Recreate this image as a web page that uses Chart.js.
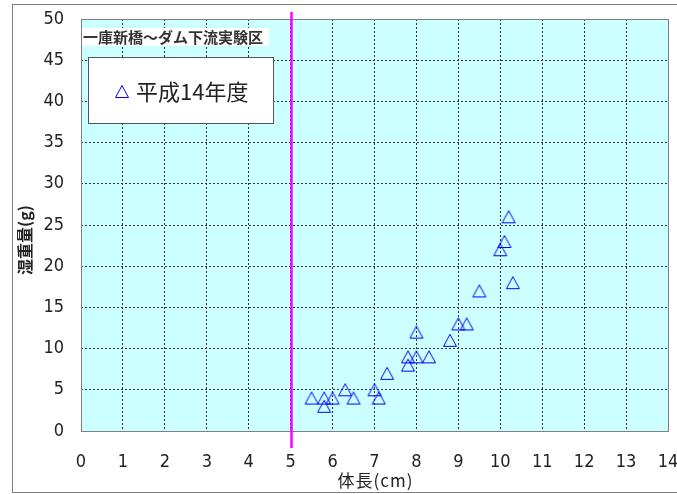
<!DOCTYPE html>
<html>
<head>
<meta charset="utf-8">
<script src="https://cdn.jsdelivr.net/npm/chart.js@4.4.0/dist/chart.umd.min.js"></script>
<style>
  html, body { margin: 0; padding: 0; background: #fff; }
  #wrap { width: 677px; height: 494px; }
</style>
</head>
<body>
<div id="wrap"><canvas id="myChart" width="677" height="494"></canvas></div>
<script>
// 体長 (cm) and 湿重量 (g)
const lengths = [5.5, 5.8, 5.8, 6.0, 6.3, 6.5, 7.0, 7.1, 7.3, 7.8, 7.8, 8.0, 8.0, 8.3, 8.8, 9.0, 9.2, 9.5, 10.0, 10.1, 10.2, 10.3];
const weights = [4, 4, 3, 4, 5, 4, 5, 4, 7, 8, 9, 9, 12, 9, 11, 13, 13, 17, 22, 23, 26, 18];
const seriesName = '平成14年度';
const siteName = '一庫新橋～ダム下流実験区';
const xTitle = '体長(cm)';
const yTitle = '湿重量(g)';
const limitLength = 5;

const numFont = "'Liberation Sans Narrow', 'DejaVu Sans Condensed', Arial, sans-serif";
const jpFont = "'Noto Sans CJK JP', sans-serif";

const points = lengths.map((x, i) => ({ x: x, y: weights[i] }));

// open triangle marker, centred on its box like the excel one
const tri = document.createElement('canvas');
tri.width = 16;
tri.height = 15;
(function () {
    const c = tri.getContext('2d');
    c.strokeStyle = '#0000ff';
    c.lineWidth = 1;
    c.beginPath();
    c.moveTo(8, 1.5);
    c.lineTo(14.5, 13.5);
    c.lineTo(1.5, 13.5);
    c.closePath();
    c.stroke();
})();

// backgrounds, frame, labels and the 5cm line
const decor = {
    id: 'decor',
    beforeDraw(chart) {
        const ctx = chart.ctx;
        const a = chart.chartArea;
        ctx.save();
        ctx.fillStyle = '#fff';
        ctx.fillRect(0, 0, chart.width, chart.height);
        ctx.strokeStyle = '#808080';
        ctx.lineWidth = 1;
        ctx.strokeRect(12.5, 4.5, 680, 488);
        ctx.fillStyle = '#ccffff';
        ctx.fillRect(a.left, a.top, a.right - a.left, a.bottom - a.top);
        ctx.restore();
    },
    afterDatasetsDraw(chart) {
        const ctx = chart.ctx;
        const a = chart.chartArea;
        const xs = chart.scales.x;
        ctx.save();
        // plot frame
        ctx.strokeStyle = '#808080';
        ctx.lineWidth = 1;
        ctx.strokeRect(a.left + 0.5, a.top + 0.5, a.right - a.left, a.bottom - a.top);

        // site label
        ctx.fillStyle = '#fff';
        ctx.fillRect(a.left + 1, 28, 187, 18);
        ctx.fillStyle = '#333';
        ctx.font = 'bold 15px ' + jpFont;
        ctx.textBaseline = 'middle';
        ctx.textAlign = 'left';
        ctx.fillText(siteName, a.left + 2, 37);

        // legend box
        ctx.fillStyle = '#fff';
        ctx.fillRect(88.5, 57.5, 185, 66);
        ctx.strokeStyle = '#555';
        ctx.strokeRect(88.5, 57.5, 185, 66);
        ctx.drawImage(tri, 114, 84);
        const ds = chart.data.datasets[0];
        ctx.fillStyle = '#222';
        ctx.font = '22px ' + jpFont;
        ctx.fillText(ds.label, 136, 92);

        // axis titles
        ctx.fillStyle = '#222';
        ctx.font = '17px ' + jpFont;
        ctx.textAlign = 'center';
        ctx.letterSpacing = '1px';
        ctx.fillText(xTitle, (a.left + a.right) / 2 + 1, 481);
        ctx.letterSpacing = '0px';
        ctx.save();
        ctx.translate(25, 240);
        ctx.rotate(-Math.PI / 2);
        ctx.font = 'bold 16px ' + jpFont;
        ctx.fillText(yTitle, 0, 0);
        ctx.restore();

        // 5 cm line
        const px = Math.round(xs.getPixelForValue(limitLength)) + 0.5;
        ctx.strokeStyle = '#ff00ff';
        ctx.lineWidth = 2.5;
        ctx.beginPath();
        ctx.moveTo(px, 12);
        ctx.lineTo(px, 448);
        ctx.stroke();
        ctx.restore();
    }
};

const data = {
    datasets: [{
        label: seriesName,
        data: points,
        showLine: false,
        pointStyle: tri,
        pointRadius: 8,
        pointHoverRadius: 8,
        borderColor: '#0000ff',
        backgroundColor: 'rgba(0,0,0,0)',
        borderWidth: 1
    }]
};

const config = {
    type: 'scatter',
    data: data,
    plugins: [decor],
    options: {
        responsive: false,
        animation: false,
        events: [],
        layout: { padding: { left: 13, top: 19, right: 8, bottom: 6 } },
        plugins: {
            legend: { display: false },
            tooltip: { enabled: false }
        },
        scales: {
            x: {
                type: 'linear',
                min: 0,
                max: 14,
                ticks: {
                    stepSize: 1,
                    padding: 21,
                    color: '#222',
                    font: { family: numFont, size: 18 }
                },
                grid: { color: '#333', drawTicks: false },
                border: { display: false, dash: [2, 2] },
                afterFit(scale) {
                    scale.height = 57;
                    scale.paddingLeft = 0;
                    scale.paddingRight = 0;
                }
            },
            y: {
                min: 0,
                max: 50,
                ticks: {
                    stepSize: 5,
                    padding: 17,
                    color: '#222',
                    font: { family: numFont, size: 18 }
                },
                grid: { color: '#333', drawTicks: false },
                border: { display: false, dash: [2, 2] },
                afterFit(scale) {
                    scale.width = 68;
                    scale.paddingTop = 0;
                    scale.paddingBottom = 0;
                }
            }
        }
    }
};

const ctx = document.getElementById('myChart').getContext('2d');
const myChart = new Chart(ctx, config);
</script>
</body>
</html>
